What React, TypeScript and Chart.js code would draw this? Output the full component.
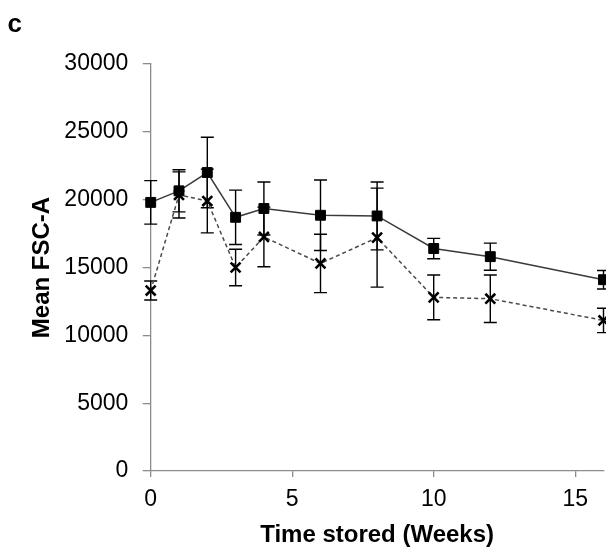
import React, { useEffect, useRef } from "react";
import { Chart, registerables } from "chart.js";

Chart.register(...registerables);

const weeks = [0, 1, 2, 3, 4, 6, 8, 10, 12, 16];
const meanSquare = [19800, 20650, 22000, 18700, 19350, 18850, 18800, 16400, 15800, 14100];
const errSquare = [1600, 1550, 2600, 2000, 1950, 2600, 2500, 750, 1000, 680];
const meanCross = [13300, 20350, 19900, 15000, 17250, 15300, 17200, 12800, 12700, 11100];
const errCross = [700, 1700, 2350, 1350, 2200, 2150, 3650, 1650, 1750, 900];
const errors = [errSquare, errCross];
const panelLabel = "c";
const xTitle = "Time stored (Weeks)";
const yTitle = "Mean FSC-A";

const FONT = "'Liberation Sans', Arial, sans-serif";
const AXIS_GRAY = "#8c8c8c";

const errorBarPlugin = {
  id: "errorBars",
  beforeDatasetsDraw(chart: any) {
    const { ctx, scales } = chart;
    const xs = scales.x;
    const ys = scales.y;
    ctx.save();
    ctx.strokeStyle = "#000";
    ctx.lineWidth = 1.4;
    chart.data.datasets.forEach((ds: any, di: number) => {
      const errs = errors[di];
      ds.data.forEach((pt: any, i: number) => {
        const px = xs.getPixelForValue(pt.x);
        const yt = ys.getPixelForValue(pt.y + errs[i]);
        const yb = ys.getPixelForValue(pt.y - errs[i]);
        const cap = 6.5;
        ctx.beginPath();
        ctx.moveTo(px, yt);
        ctx.lineTo(px, yb);
        ctx.moveTo(px - cap, yt);
        ctx.lineTo(px + cap, yt);
        ctx.moveTo(px - cap, yb);
        ctx.lineTo(px + cap, yb);
        ctx.stroke();
      });
    });
    ctx.restore();
  },
};

const panelLabelPlugin = {
  id: "panelLabel",
  afterDraw(chart: any) {
    const { ctx } = chart;
    ctx.save();
    ctx.fillStyle = "#000";
    ctx.font = `bold 26px ${FONT}`;
    ctx.textAlign = "left";
    ctx.textBaseline = "alphabetic";
    ctx.fillText(panelLabel, 7.5, 32);
    ctx.restore();
  },
};

export default function App() {
  const canvasRef = useRef<HTMLCanvasElement | null>(null);

  useEffect(() => {
    document.body.style.margin = "0";
    const canvas = canvasRef.current;
    if (!canvas) return;
    const chart = new Chart(canvas, {
      type: "line",
      data: {
        datasets: [
          {
            label: "A",
            data: weeks.map((w, i) => ({ x: w, y: meanSquare[i] })),
            borderColor: "#3a3a3a",
            borderWidth: 1.5,
            pointStyle: "rect",
            pointRadius: 7,
            pointBackgroundColor: "#000",
            pointBorderColor: "#000",
            pointBorderWidth: 1,
            clip: false,
            tension: 0,
          },
          {
            label: "B",
            data: weeks.map((w, i) => ({ x: w, y: meanCross[i] })),
            borderColor: "#4a4a4a",
            borderWidth: 1.5,
            borderDash: [4, 3],
            pointStyle: "crossRot",
            pointRadius: 7,
            pointBackgroundColor: "#000",
            pointBorderColor: "#000",
            pointBorderWidth: 2.6,
            clip: false,
            tension: 0,
          },
        ],
      },
      options: {
        animation: false,
        responsive: false,
        maintainAspectRatio: false,
        layout: { autoPadding: false, padding: { top: 64, left: 0, right: 2.5, bottom: 0 } },
        plugins: {
          legend: { display: false },
          tooltip: { enabled: false },
        },
        scales: {
          x: {
            type: "linear",
            min: 0,
            max: 16,
            ticks: {
              stepSize: 5,
              includeBounds: false,
              color: "#000",
              font: { family: FONT, size: 23 },
              padding: 9,
              maxRotation: 0,
              callback: (v: any) => String(v),
            },
            grid: {
              display: true,
              drawOnChartArea: false,
              drawTicks: true,
              tickLength: 6,
              color: AXIS_GRAY,
              lineWidth: 1.3,
            },
            border: { display: true, color: AXIS_GRAY, width: 1.3 },
            title: {
              display: true,
              text: xTitle,
              color: "#000",
              font: { family: FONT, size: 24, weight: "bold" },
              padding: { top: 0, bottom: 2 },
            },
            afterFit(scale: any) {
              scale.height = 81;
              scale.paddingLeft = 0;
              scale.paddingRight = 0;
            },
          },
          y: {
            type: "linear",
            min: 0,
            max: 30000,
            ticks: {
              stepSize: 5000,
              color: "#000",
              font: { family: FONT, size: 23 },
              padding: 14.4,
              callback: (v: any) => String(v),
            },
            grid: {
              display: true,
              drawOnChartArea: false,
              drawTicks: true,
              tickLength: 8,
              color: AXIS_GRAY,
              lineWidth: 1.3,
            },
            border: { display: true, color: AXIS_GRAY, width: 1.3 },
            title: {
              display: true,
              text: yTitle,
              color: "#000",
              font: { family: FONT, size: 24, weight: "bold" },
              padding: { top: 28, bottom: 0 },
            },
            afterFit(scale: any) {
              scale.width = 150.7;
              scale.paddingTop = 0;
              scale.paddingBottom = 0;
            },
          },
        },
      },
      plugins: [errorBarPlugin, panelLabelPlugin],
    });
    return () => chart.destroy();
  }, []);

  return (
    <div style={{ width: 606, height: 552 }}>
      <canvas ref={canvasRef} width={606} height={552} style={{ display: "block", width: 606, height: 552 }} />
    </div>
  );
}
